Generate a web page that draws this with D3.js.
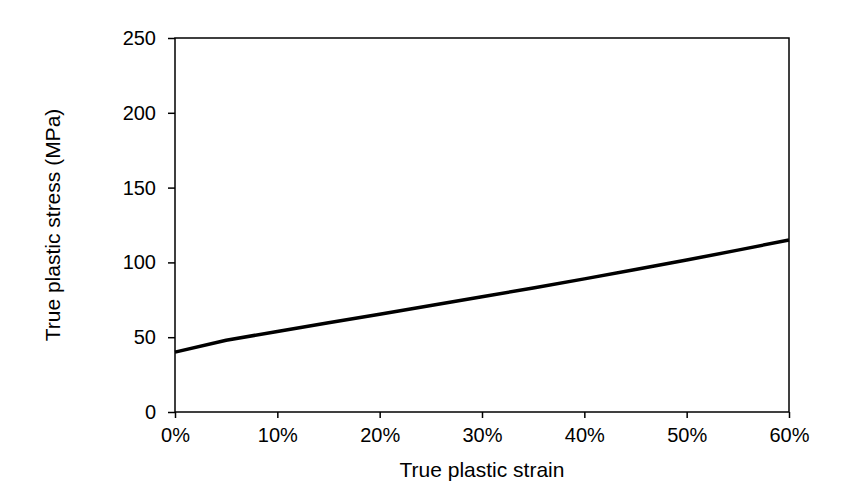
<!DOCTYPE html>
<html>
<head>
<meta charset="utf-8">
<script src="https://cdn.jsdelivr.net/npm/d3@7"></script>
<style>
  body { margin: 0; background: #fff; }
  text { font-family: "Liberation Sans", Arial, sans-serif; fill: #000; }
</style>
</head>
<body>
<div class="chart"></div>
<script>
// strain (fraction) and stress (MPa)
var strain = [0, 0.05, 0.10, 0.15, 0.20, 0.25, 0.30, 0.35, 0.40, 0.45, 0.50, 0.55, 0.60];
var stress = [40, 48, 53.8, 59.6, 65.4, 71.2, 77, 82.9, 89, 95.2, 101.6, 108.2, 115];
var xTicks = [0, 0.1, 0.2, 0.3, 0.4, 0.5, 0.6];
var yTicks = [0, 50, 100, 150, 200, 250];

drawchart();

function drawchart() {
  var svgWidth = 846, svgHeight = 502;
  var margin = {top: 38, right: 57, bottom: 90, left: 175};
  var chart_width = svgWidth - margin.left - margin.right,
      chart_height = svgHeight - margin.top - margin.bottom;

  var svg = d3.select(".chart")
    .append("svg")
      .attr("width", svgWidth)
      .attr("height", svgHeight);

  var g = svg.append("g")
      .attr("transform", "translate(" + margin.left + "," + margin.top + ")");

  var x = d3.scaleLinear().domain([0, 0.6]).range([0, chart_width]);
  var y = d3.scaleLinear().domain([0, 250]).range([chart_height, 0]);

  // plot frame
  g.append("rect")
    .attr("width", chart_width)
    .attr("height", chart_height)
    .attr("fill", "none")
    .attr("stroke", "#000")
    .attr("stroke-width", 1.5);

  var xAxis = g.append("g")
    .attr("transform", "translate(0," + chart_height + ")")
    .call(d3.axisBottom(x).tickValues(xTicks).tickSize(6).tickPadding(10)
      .tickFormat(d3.format(".0%")));

  var yAxis = g.append("g")
    .call(d3.axisLeft(y).tickValues(yTicks).tickSize(7).tickPadding(12));

  [xAxis, yAxis].forEach(function(ax) {
    ax.select(".domain").remove();
    ax.selectAll("line").attr("stroke", "#000").attr("stroke-width", 1.5);
    ax.selectAll("text").style("font-size", "20px")
      .style("font-family", "'Liberation Sans', Arial, sans-serif");
  });

  var line = d3.line()
    .x(function(d, i) { return x(strain[i]); })
    .y(function(d) { return y(d); });

  g.append("path")
    .datum(stress)
    .attr("fill", "none")
    .attr("stroke", "#000")
    .attr("stroke-width", 3.5)
    .attr("stroke-linejoin", "round")
    .attr("d", line);

  svg.append("text")
    .attr("x", margin.left + chart_width / 2)
    .attr("y", 477)
    .attr("text-anchor", "middle")
    .style("font-size", "21px")
    .text("True plastic strain");

  svg.append("text")
    .attr("transform", "translate(60," + (margin.top + chart_height / 2) + ") rotate(-90)")
    .attr("text-anchor", "middle")
    .style("font-size", "21px")
    .text("True plastic stress (MPa)");
}
</script>
</body>
</html>
